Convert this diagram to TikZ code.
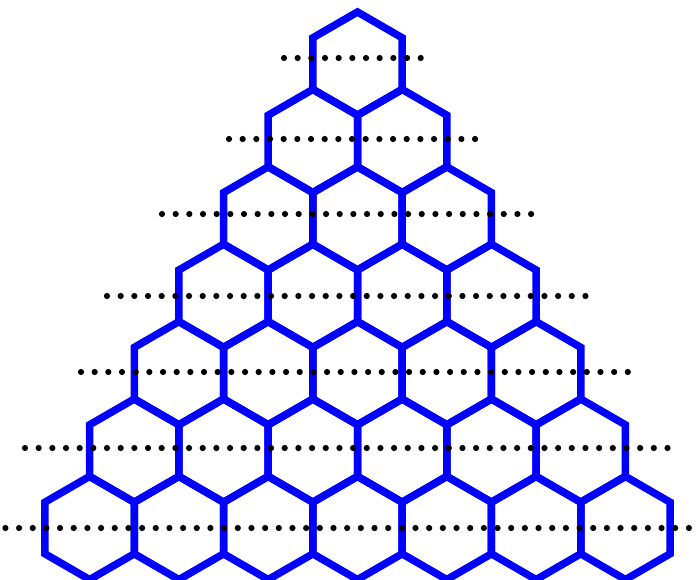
\documentclass[tikz,border=0pt]{standalone}
\usepackage{tikz}
\usetikzlibrary{calc}

\begin{document}
\begin{tikzpicture}[
    x=1pt, y=-1pt,
    hexcell/.style={draw=blue, line width=7.5pt},
    dotmark/.style={fill=black}
]
\useasboundingbox (0,0) rectangle (698,579);
% triangle of hexagons, row r holds r cells
\foreach \r in {1,...,7}{
  \foreach \c in {1,...,\r}{
    \pgfmathsetmacro{\cx}{357.5+(\c-(\r+1)/2)*89.3}
    \pgfmathsetmacro{\cy}{63.6+(\r-1)*77.4}
    \draw[hexcell] (\cx,\cy-51.6) -- ++(44.65,25.8) -- ++(0,51.6)
      -- ++(-44.65,25.8) -- ++(-44.65,-25.8) -- ++(0,-51.6) -- cycle;
  }
}
% dotted rows: y / first x / number of gaps
\foreach \y/\xa/\n in {58/284/10, 139/229/18, 214/162/27, 296/107/35,
                       372/81/40, 448/25/47, 528/5.4/50}{
  \foreach \k in {0,...,\n}
    \fill[dotmark] (\xa+\k*13.67,\y) circle (3.1);
}
\end{tikzpicture}
\end{document}
